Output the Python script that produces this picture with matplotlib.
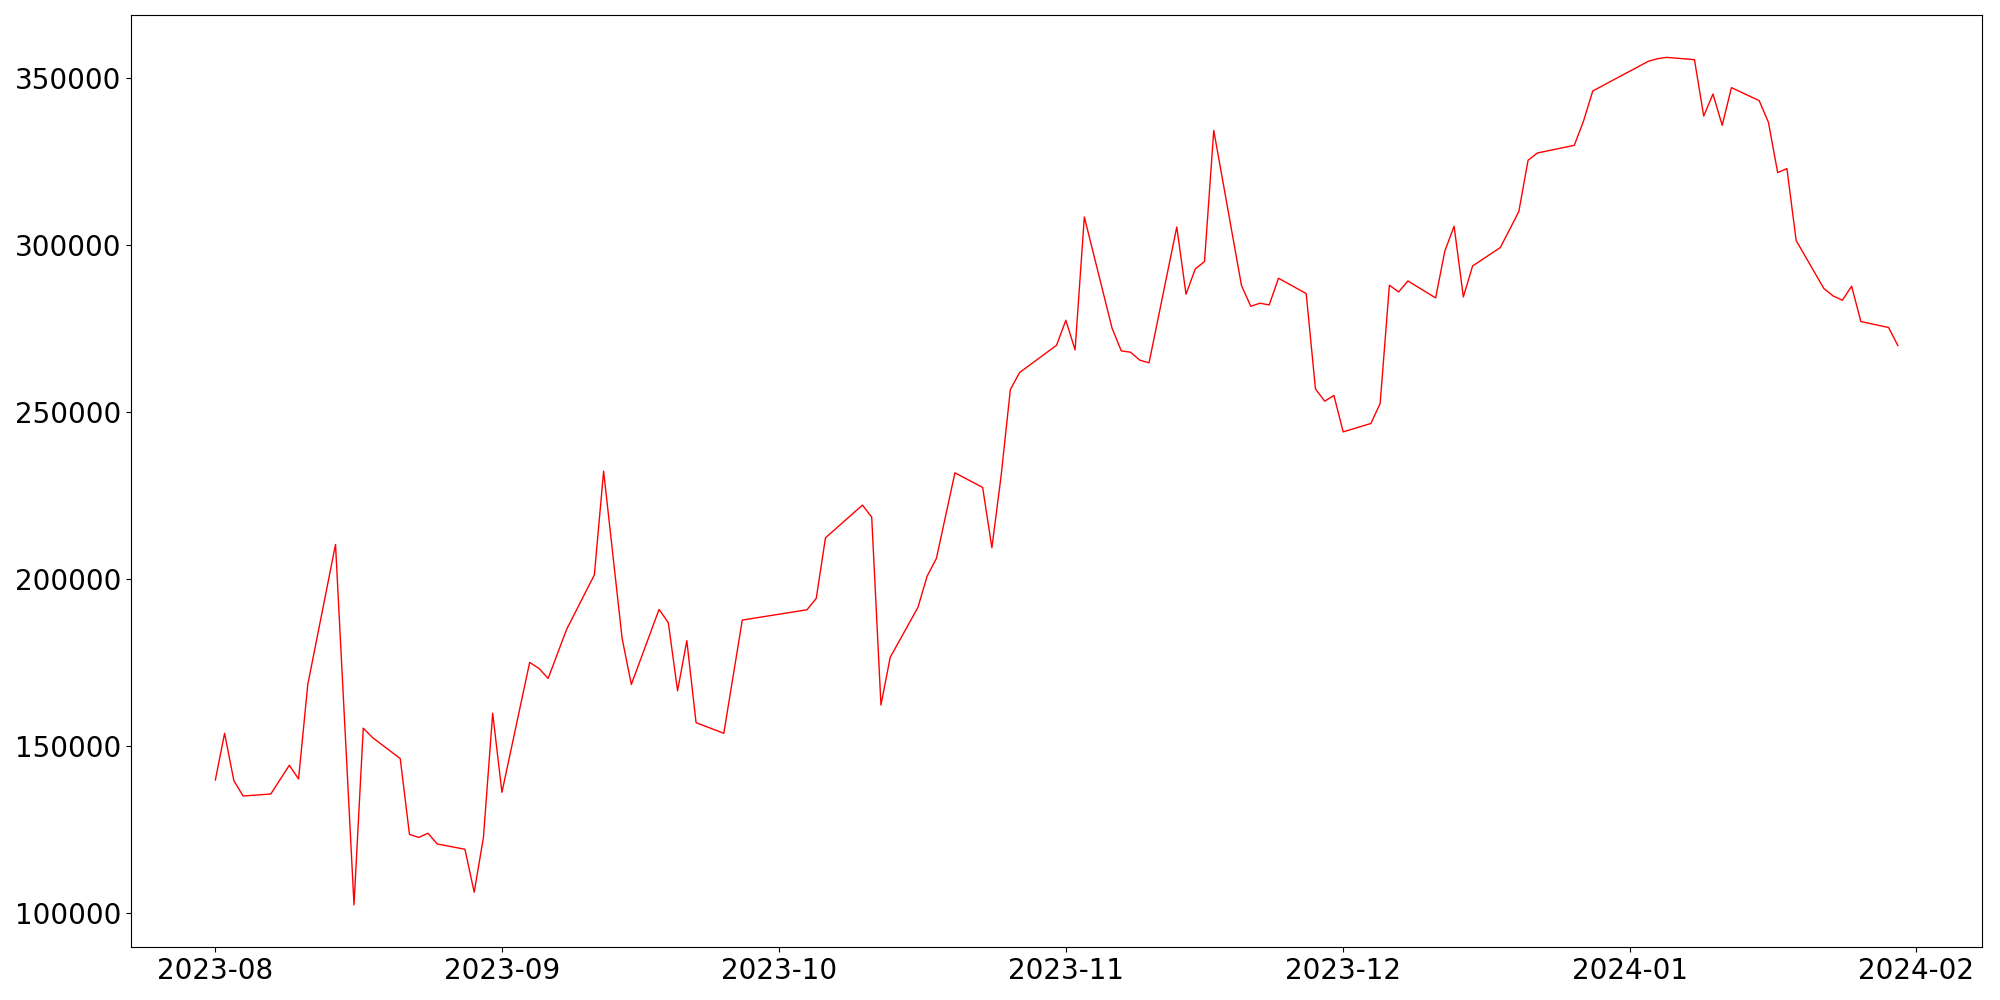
import matplotlib
matplotlib.use("Agg")
import matplotlib.pyplot as plt
import pandas as pd

dates = [
    "2023-08-01", "2023-08-02", "2023-08-03", "2023-08-04", "2023-08-07", "2023-08-09",
    "2023-08-10", "2023-08-11", "2023-08-14", "2023-08-16", "2023-08-17", "2023-08-18",
    "2023-08-21", "2023-08-22", "2023-08-23", "2023-08-24", "2023-08-25", "2023-08-28",
    "2023-08-29", "2023-08-30", "2023-08-31", "2023-09-01", "2023-09-04", "2023-09-05",
    "2023-09-06", "2023-09-08", "2023-09-11", "2023-09-12", "2023-09-14", "2023-09-15",
    "2023-09-18", "2023-09-19", "2023-09-20", "2023-09-21", "2023-09-22", "2023-09-25",
    "2023-09-27", "2023-10-04", "2023-10-05", "2023-10-06", "2023-10-10", "2023-10-11",
    "2023-10-12", "2023-10-13", "2023-10-16", "2023-10-17", "2023-10-18", "2023-10-20",
    "2023-10-23", "2023-10-24", "2023-10-25", "2023-10-26", "2023-10-27", "2023-10-31",
    "2023-11-01", "2023-11-02", "2023-11-03", "2023-11-06", "2023-11-07", "2023-11-08",
    "2023-11-09", "2023-11-10", "2023-11-13", "2023-11-14", "2023-11-15", "2023-11-16",
    "2023-11-17", "2023-11-20", "2023-11-21", "2023-11-22", "2023-11-23", "2023-11-24",
    "2023-11-27", "2023-11-28", "2023-11-29", "2023-11-30", "2023-12-01", "2023-12-04",
    "2023-12-05", "2023-12-06", "2023-12-07", "2023-12-08", "2023-12-11", "2023-12-12",
    "2023-12-13", "2023-12-14", "2023-12-15", "2023-12-18", "2023-12-20", "2023-12-21",
    "2023-12-22", "2023-12-26", "2023-12-27", "2023-12-28", "2024-01-03", "2024-01-04",
    "2024-01-05", "2024-01-08", "2024-01-09", "2024-01-10", "2024-01-11", "2024-01-12",
    "2024-01-15", "2024-01-16", "2024-01-17", "2024-01-18", "2024-01-19", "2024-01-22",
    "2024-01-23", "2024-01-24", "2024-01-25", "2024-01-26", "2024-01-29", "2024-01-30",
]

values = [
    139900, 153870, 139700, 135100, 135700, 144300,
    140200, 168500, 210400, 102500, 155400, 152600,
    146300, 123600, 122700, 123950, 120750, 119150,
    106300, 122700, 159860, 136200, 175100, 173300,
    170300, 185000, 201300, 232350, 182300, 168500,
    190970, 186970, 166600, 181600, 157050, 153870,
    187770, 190850, 194260, 212400, 222180, 218600,
    162340, 176600, 191570, 200940, 206230, 231850,
    227480, 209400, 231000, 256800, 261880, 270050,
    277530, 268650, 308440, 275140, 268350, 267960,
    265570, 264770, 305450, 285310, 292880, 295100,
    334350, 287920, 281720, 282620, 282120, 290100,
    285520, 256980, 253300, 255000, 244110, 246630,
    252610, 288010, 286000, 289290, 284210, 298270,
    305660, 284500, 293780, 299290, 310060, 325410,
    327590, 329890, 337160, 346170, 355030, 355830,
    356220, 355530, 338660, 345240, 335880, 347160,
    343270, 336780, 321730, 322920, 301380, 287020,
    284800, 283520, 287710, 277140, 275350, 269960,
]

x = pd.to_datetime(dates)

fig, ax = plt.subplots(figsize=(20, 10), dpi=100)
ax.plot(x, values, color="red", linewidth=1)
ax.tick_params(axis="both", labelsize=20)
fig.tight_layout()
fig.savefig("out.png", dpi=100)
